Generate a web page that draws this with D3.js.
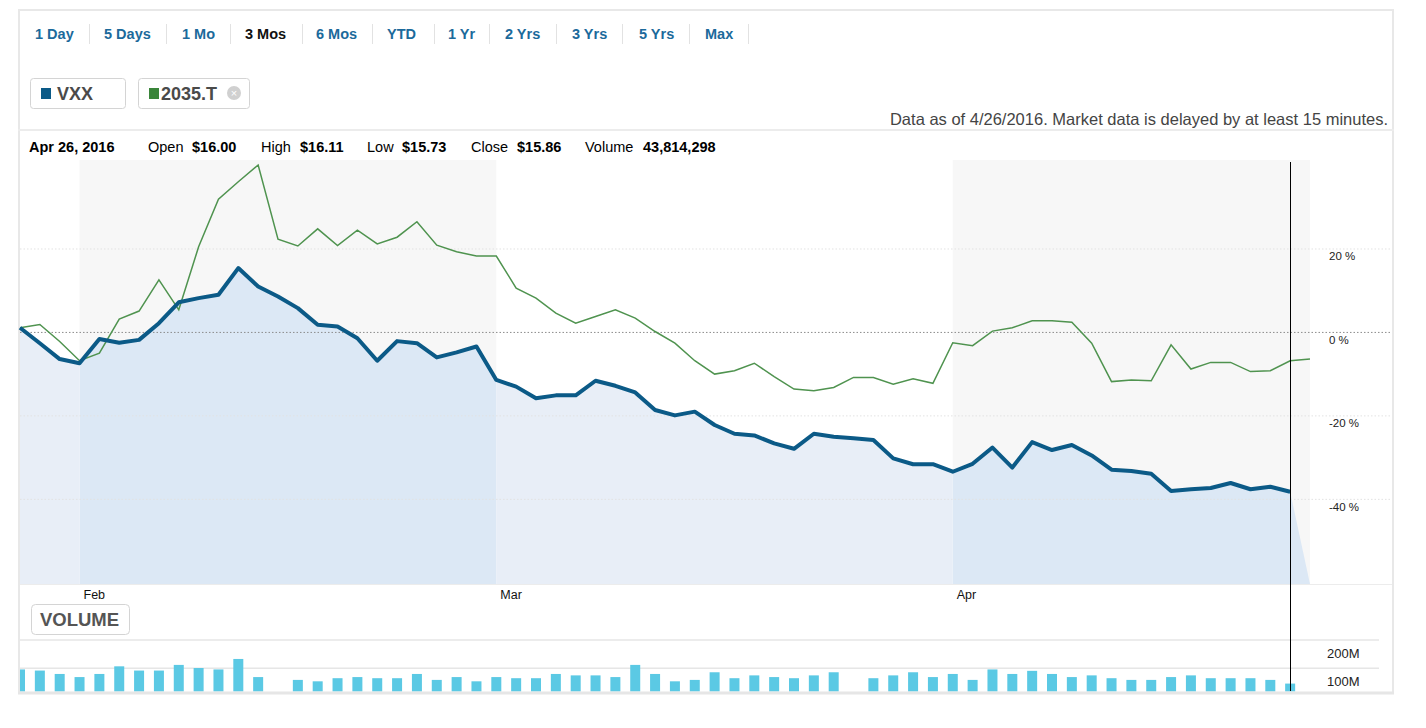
<!DOCTYPE html>
<meta charset="utf-8">
<head>
    <title>VXX vs 2035.T</title>
</head>
<style>
    body { margin: 0; background: #fff; }
    text { font-family: "Liberation Sans", Arial, Helvetica, sans-serif; }
</style>
<body>
    <svg id="chart"></svg>

    <script src="https://cdnjs.cloudflare.com/ajax/libs/d3/7.8.5/d3.min.js"></script>
    <script>

        // Data (percent change), one value per weekday from Jan 27 to Apr 27 2016
        var rangeButtons = ["1 Day", "5 Days", "1 Mo", "3 Mos", "6 Mos", "YTD", "1 Yr", "2 Yrs", "3 Yrs", "5 Yrs", "Max"];
        var activeRange = "3 Mos";
        var symbols = ["VXX", "2035.T"];

        var vxxPct = [1.0, -2.7, -6.5, -7.5, -1.7, -2.6, -1.9, 2.1, 7.1, 8.1, 8.9, 15.3, 10.9, 8.5, 5.7, 1.7,
            1.3, -1.5, -6.9, -2.2, -2.7, -6.1, -4.9, -3.5, -11.5, -13.1, -15.9, -15.2, -15.2, -11.7, -12.9,
            -14.5, -18.7, -20.0, -19.1, -22.3, -24.4, -24.8, -26.7, -28.0, -24.4, -25.1, -25.5, -25.9, -30.3,
            -31.7, -31.7, -33.5, -31.6, -27.7, -32.5, -26.4, -28.3, -27.1, -29.6, -33.0, -33.3, -34.0, -38.1,
            -37.7, -37.4, -36.2, -37.7, -37.1, -38.3, null];

        var tsePct = [1.0, 1.8, -2.3, -6.9, -5.1, 3.1, 5.0, 12.5, 5.3, 20.4, 31.8, 36.0, 40.0, 22.2, 20.6, 24.7,
            20.7, 24.4, 21.1, 22.7, 26.4, 20.8, 19.2, 18.2, 18.2, 10.5, 8.1, 4.5, 2.1, 3.7, 5.3, 3.3, 0.1,
            -2.7, -6.9, -10.1, -9.3, -7.5, -10.7, -13.7, -14.1, -13.3, -10.9, -10.9, -12.5, -11.2, -12.3,
            -2.6, -3.3, 0.2, 1.0, 2.7, 2.7, 2.3, -2.7, -11.9, -11.5, -11.7, -3.1, -8.9, -7.3, -7.3, -9.5,
            -9.3, -6.9, -6.5];

        // VXX volume in millions (null = US market closed)
        var vxxVolume = [96, 92, 80, 69, 80, 107, 92, 92, 112, 101, 96, 133, 69, null, 59, 54, 65, 69, 65, 65,
            80, 59, 69, 54, 69, 65, 65, 80, 75, 75, 69, 112, 80, 54, 59, 86, 65, 75, 69, 65, 75, 86, null,
            65, 75, 86, 69, 80, 59, 96, 80, 91, 80, 69, 75, 65, 59, 59, 69, 75, 65, 65, 65, 59, 46, null];

        var pctTicks = [20, 0, -20, -40];
        var volTicks = [200, 100];
        var infoItems = [["Open", "$16.00"], ["High", "$16.11"], ["Low", "$15.73"], ["Close", "$15.86"], ["Volume", "43,814,298"]];

        // Configuration
        var width = 1426, height = 728;
        var vxxColor = "#0b5a87", tseColor = "#4f934f", barColor = "#5bc9e4";

        // weekday categories
        var parse = d3.timeParse("%Y-%m-%d"), fmt = d3.timeFormat("%Y-%m-%d");
        var days = d3.timeDay.range(parse("2016-01-27"), parse("2016-04-28"))
            .filter(d => d.getDay() != 0 && d.getDay() != 6);
        var dayKeys = days.map(fmt);

        var svg = d3.select("#chart").attr("width", width).attr("height", height);

        var x = d3.scalePoint().domain(dayKeys).range([20, 1310]);
        var y = d3.scaleLinear().domain([-60.4, 41.2]).range([584, 160]);
        var yv = d3.scaleLinear().domain([0, 200]).range([696.6, 640]);

        // Frame
        var frame = svg.append("g");
        frame.append("line").attr("x1", 18).attr("x2", 1394).attr("y1", 10).attr("y2", 10).attr("stroke", "#e8e8e8").attr("stroke-width", 2);
        frame.append("line").attr("x1", 19).attr("x2", 19).attr("y1", 10).attr("y2", 694).attr("stroke", "#e8e8e8").attr("stroke-width", 2);
        frame.append("line").attr("x1", 1393).attr("x2", 1393).attr("y1", 10).attr("y2", 694).attr("stroke", "#e8e8e8").attr("stroke-width", 2);
        frame.append("line").attr("x1", 18).attr("x2", 1394).attr("y1", 130).attr("y2", 130).attr("stroke", "#ececec").attr("stroke-width", 2);

        // Range buttons
        var navX = [35, 104, 182, 245, 316, 387, 448, 505, 572, 639, 705];
        var navSep = [89, 166, 230, 302, 372, 434, 489, 556, 622, 689, 748];
        var nav = svg.append("g");
        rangeButtons.forEach((label, i) => {
            nav.append("text").attr("x", navX[i]).attr("y", 39)
                .attr("font-size", 14.5).attr("font-weight", "bold")
                .attr("fill", label == activeRange ? "#111" : "#1c6a9b")
                .text(label);
            nav.append("line").attr("x1", navSep[i] + 0.5).attr("x2", navSep[i] + 0.5)
                .attr("y1", 24).attr("y2", 44).attr("stroke", "#e2e2e2");
        });

        // Legend chips
        var chips = [{ x: 30, w: 95, color: vxxColor, close: false }, { x: 138, w: 111, color: "#3a853a", close: true }];
        chips.forEach((c, i) => {
            var g = svg.append("g").attr("transform", `translate(${c.x},78)`);
            g.append("rect").attr("x", 0.5).attr("y", 0.5).attr("width", c.w).attr("height", 30).attr("rx", 3)
                .attr("fill", "#fff").attr("stroke", "#d4d4d4");
            g.append("rect").attr("x", 11).attr("y", 10).attr("width", 10).attr("height", 11).attr("fill", c.color);
            g.append("text").attr("x", i == 0 ? 27 : 23).attr("y", 22).attr("font-size", 18).attr("font-weight", "bold")
                .attr("fill", "#4a4a4a").text(symbols[i]);
            if (c.close) {
                g.append("circle").attr("cx", 96).attr("cy", 15).attr("r", 7).attr("fill", "#d0d0d0");
                g.append("text").attr("x", 96).attr("y", 19).attr("text-anchor", "middle").attr("font-size", 11)
                    .attr("fill", "#fff").text("×");
            }
        });

        svg.append("text").attr("x", 1388).attr("y", 125).attr("text-anchor", "end").attr("font-size", 16.5)
            .attr("fill", "#444").text("Data as of 4/26/2016. Market data is delayed by at least 15 minutes.");

        // Info line
        var info = svg.append("text").attr("x", 29).attr("y", 152).attr("font-size", 14.5).attr("fill", "#000");
        info.append("tspan").attr("font-weight", "bold").text("Apr 26, 2016");
        var infoX = [148, 261, 367, 471, 585];
        var infoValX = [192, 300, 402, 517, 643];
        infoItems.forEach(([k, v], i) => {
            info.append("tspan").attr("x", infoX[i]).text(k);
            info.append("tspan").attr("x", infoValX[i]).attr("font-weight", "bold").text(v);
        });

        // Month bands
        var monthStarts = dayKeys.filter((k, i) => i > 0 && days[i].getMonth() != days[i - 1].getMonth());
        var edges = [dayKeys[0]].concat(monthStarts, [dayKeys[dayKeys.length - 1]]);
        var bands = d3.range(edges.length - 1).map(i => ({ x0: x(edges[i]), x1: x(edges[i + 1]), shaded: i % 2 == 1 }));

        var defs = svg.append("defs");
        [true, false].forEach(shaded => {
            defs.append("clipPath").attr("id", shaded ? "clipShaded" : "clipPlain")
                .selectAll("rect").data(bands.filter(b => b.shaded == shaded)).enter().append("rect")
                .attr("x", b => b.x0).attr("width", b => b.x1 - b.x0).attr("y", 160).attr("height", 424);
        });
        defs.append("clipPath").attr("id", "clipVol").append("rect")
            .attr("x", 20).attr("y", 620).attr("width", 1370).attr("height", 71.5);

        svg.append("g").selectAll("rect").data(bands.filter(b => b.shaded)).enter().append("rect")
            .attr("x", b => b.x0).attr("width", b => b.x1 - b.x0).attr("y", 160).attr("height", 424)
            .attr("fill", "#f7f7f7");

        // VXX area
        var areaPts = dayKeys.map((k, i) => [x(k), vxxPct[i] == null ? y.domain()[0] : vxxPct[i]]);
        var area = d3.area().x(d => d[0]).y0(y(y.domain()[0])).y1(d => y(d[1]));
        svg.append("path").attr("d", area(areaPts)).attr("fill", "#dce8f5").attr("clip-path", "url(#clipShaded)");
        svg.append("path").attr("d", area(areaPts)).attr("fill", "#e8eef7").attr("clip-path", "url(#clipPlain)");

        // Gridlines
        svg.append("g").selectAll("line").data(pctTicks).enter().append("line")
            .attr("x1", 20).attr("x2", 1392).attr("y1", d => y(d) + 0.5).attr("y2", d => y(d) + 0.5)
            .attr("stroke", d => d == 0 ? "#8c8c8c" : "#e2e2e2").attr("stroke-dasharray", "1.5,2");
        svg.append("line").attr("x1", 20).attr("x2", 1392).attr("y1", 584.5).attr("y2", 584.5).attr("stroke", "#ececec");

        svg.append("g").selectAll("text").data(pctTicks).enter().append("text")
            .attr("x", 1329).attr("y", d => y(d) + 12).attr("font-size", 11.5).attr("fill", "#222")
            .text(d => d + " %");

        // Lines
        var line = d3.line().defined(d => d[1] != null).x(d => d[0]).y(d => y(d[1]));
        svg.append("path").attr("d", line(dayKeys.map((k, i) => [x(k), tsePct[i]])))
            .attr("fill", "none").attr("stroke", tseColor).attr("stroke-width", 1.5);
        svg.append("path").attr("d", line(dayKeys.map((k, i) => [x(k), vxxPct[i]])))
            .attr("fill", "none").attr("stroke", vxxColor).attr("stroke-width", 4).attr("stroke-linejoin", "round");

        // Month labels
        svg.append("g").selectAll("text").data(monthStarts).enter().append("text")
            .attr("x", d => x(d) + 4).attr("y", 599).attr("font-size", 12.5).attr("fill", "#111")
            .text(d => d3.timeFormat("%b")(parse(d)));

        // Volume button
        svg.append("rect").attr("x", 31.5).attr("y", 604.5).attr("width", 98).attr("height", 30).attr("rx", 4)
            .attr("fill", "#fff").attr("stroke", "#d4d4d4");
        svg.append("text").attr("x", 79.5).attr("y", 625.5).attr("text-anchor", "middle").attr("font-size", 18.5)
            .attr("font-weight", "bold").attr("fill", "#555").text("VOLUME");

        // Volume panel
        svg.append("g").selectAll("line").data(volTicks).enter().append("line")
            .attr("x1", 20).attr("x2", 1379).attr("y1", d => yv(d)).attr("y2", d => yv(d))
            .attr("stroke", "#e6e6e6").attr("stroke-width", 1.5);
        svg.append("g").selectAll("text").data(volTicks).enter().append("text")
            .attr("x", 1327).attr("y", d => yv(d) + 18).attr("font-size", 13).attr("fill", "#222")
            .text(d => d + "M");

        svg.append("g").attr("clip-path", "url(#clipVol)")
            .selectAll("rect").data(dayKeys.map((k, i) => [k, vxxVolume[i]]).filter(d => d[1] != null))
            .enter().append("rect")
            .attr("x", d => x(d[0]) - 5).attr("width", 10)
            .attr("y", d => yv(d[1])).attr("height", d => yv(0) - yv(d[1]))
            .attr("fill", barColor);

        svg.append("line").attr("x1", 18).attr("x2", 1394).attr("y1", 693).attr("y2", 693)
            .attr("stroke", "#e6e6e6").attr("stroke-width", 3);

        // Crosshair on the last day
        var lastKey = dayKeys[vxxPct.length - 2];
        svg.append("line").attr("x1", Math.round(x(lastKey)) + 0.5).attr("x2", Math.round(x(lastKey)) + 0.5)
            .attr("y1", 162).attr("y2", 691).attr("stroke", "#000");

    </script>
</body>
</html>
